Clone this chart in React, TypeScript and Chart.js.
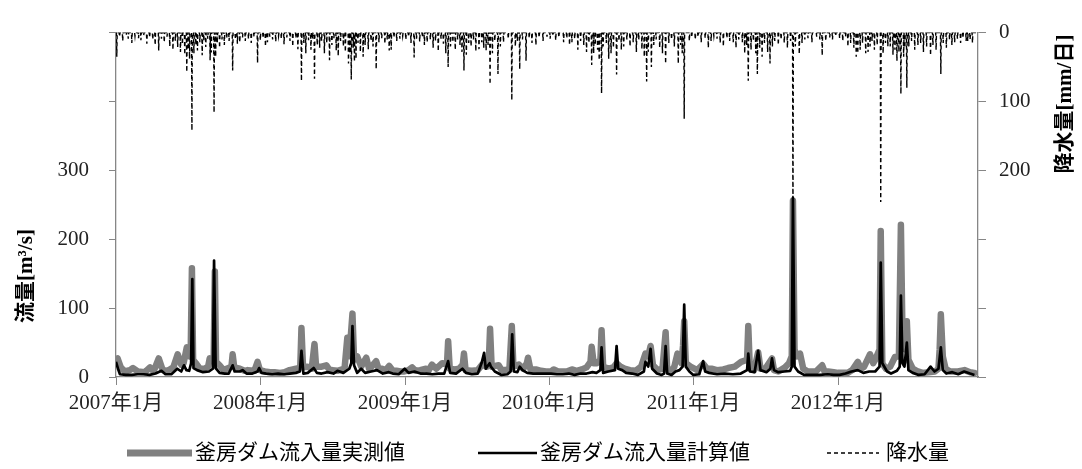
import React, { useEffect, useRef } from "react";
import { Chart, registerables } from "chart.js";

Chart.register(...registerables);

// x values are day offsets from 2007-01-01
const yearStarts = [0, 365, 731, 1096, 1461, 1826];
const yearLabels = ["2007年1月", "2008年1月", "2009年1月", "2010年1月", "2011年1月", "2012年1月"];
const seriesNames = ["釜房ダム流入量実測値", "釜房ダム流入量計算値", "降水量"];

// observed inflow [day, m3/s]
const obsPoints: number[][] = [
  [0,25],[4,27],[12,14],[22,8],[35,10],[43,13],[55,8],[73,7],[86,14],[95,8],[108,27],[118,10],[131,9],[145,14],[156,33],[165,18],[171,20],[179,43],[186,30],[189,40],[192,158],[195,25],[202,20],[212,12],[224,12],[233,15],[237,27],[247,25],[250,153],[253,22],[262,17],[272,10],[280,12],[292,15],[295,33],[299,14],[313,12],[325,9],[333,10],[350,9],[358,22],[364,10],[376,8],[390,7],[401,7],[415,6],[426,7],[439,10],[455,12],[466,14],[469,71],[473,14],[484,15],[495,12],[502,48],[506,15],[520,15],[532,17],[540,10],[547,10],[560,9],[578,12],[585,57],[590,30],[598,92],[602,25],[610,30],[620,15],[633,28],[640,12],[646,15],[658,23],[664,12],[673,12],[682,10],[691,16],[700,9],[709,9],[720,8],[729,8],[740,10],[749,14],[757,9],[769,10],[784,12],[790,9],[799,18],[810,12],[825,20],[837,18],[840,52],[844,12],[857,11],[868,12],[877,18],[880,34],[884,10],[900,9],[915,10],[926,18],[938,15],[943,25],[946,70],[950,15],[968,17],[975,10],[986,10],[995,12],[1001,74],[1005,15],[1019,18],[1030,12],[1039,20],[1042,28],[1048,11],[1062,11],[1075,9],[1087,8],[1100,8],[1107,11],[1118,8],[1127,8],[1140,8],[1153,11],[1165,9],[1178,11],[1190,14],[1200,22],[1203,44],[1208,20],[1216,20],[1225,25],[1228,68],[1232,15],[1246,12],[1258,14],[1266,20],[1276,15],[1286,12],[1300,10],[1314,9],[1328,15],[1339,34],[1346,30],[1352,45],[1358,17],[1370,10],[1382,12],[1390,65],[1394,10],[1405,9],[1412,15],[1420,34],[1430,20],[1434,45],[1437,81],[1441,20],[1453,15],[1470,10],[1485,19],[1495,12],[1506,12],[1520,10],[1536,11],[1548,13],[1565,15],[1581,22],[1596,25],[1599,74],[1603,12],[1614,10],[1624,36],[1630,12],[1642,12],[1659,27],[1664,10],[1675,8],[1692,14],[1702,20],[1709,30],[1712,256],[1716,40],[1722,30],[1730,34],[1738,12],[1750,8],[1770,8],[1786,17],[1792,8],[1801,8],[1815,7],[1826,6],[1840,6],[1851,6],[1862,10],[1876,22],[1884,12],[1892,15],[1907,33],[1915,20],[1920,25],[1931,40],[1934,212],[1938,20],[1947,12],[1958,15],[1970,29],[1980,30],[1985,221],[1989,60],[1996,40],[2000,81],[2004,25],[2015,12],[2028,8],[2040,6],[2055,7],[2071,8],[2080,12],[2083,40],[2086,91],[2091,30],[2098,12],[2110,8],[2129,8],[2146,10],[2160,7],[2171,6]
];

// calculated inflow [day, m3/s]
const calcPoints: number[][] = [
  [0,22],[5,12],[10,4],[25,3],[40,3],[55,4],[70,4],[85,3],[100,5],[115,9],[125,4],[140,4],[155,12],[165,8],[172,17],[178,10],[185,9],[190,20],[193,142],[196,13],[205,10],[220,7],[235,8],[245,12],[248,169],[252,13],[262,6],[275,5],[285,5],[295,17],[300,8],[313,8],[320,10],[330,5],[345,5],[358,8],[362,13],[368,6],[380,5],[395,4],[410,5],[425,4],[440,5],[455,6],[465,8],[469,38],[474,5],[485,6],[500,13],[508,6],[520,5],[535,7],[550,5],[560,9],[575,6],[590,12],[595,20],[598,74],[602,17],[610,6],[620,12],[630,6],[645,8],[660,10],[675,5],[690,7],[700,5],[715,4],[730,12],[740,6],[755,8],[770,5],[785,5],[800,4],[815,5],[830,5],[840,23],[845,6],[860,5],[876,12],[885,6],[900,4],[915,5],[925,21],[931,35],[935,12],[945,20],[948,15],[958,8],[975,3],[990,4],[998,8],[1002,62],[1006,8],[1015,7],[1021,15],[1028,10],[1040,6],[1055,5],[1070,5],[1085,5],[1100,5],[1115,4],[1130,4],[1145,5],[1160,3],[1175,5],[1190,5],[1205,7],[1215,6],[1225,10],[1228,43],[1232,6],[1245,8],[1262,10],[1266,45],[1270,12],[1280,10],[1290,6],[1305,5],[1320,3],[1335,8],[1339,22],[1346,15],[1352,41],[1356,12],[1368,5],[1380,3],[1386,5],[1390,45],[1394,5],[1405,3],[1415,8],[1425,10],[1433,15],[1437,105],[1441,15],[1450,8],[1460,3],[1475,4],[1485,23],[1490,8],[1500,6],[1520,4],[1540,5],[1560,4],[1580,5],[1596,10],[1599,34],[1603,8],[1615,7],[1624,38],[1630,10],[1645,7],[1655,12],[1659,27],[1664,10],[1675,7],[1690,8],[1705,9],[1709,15],[1712,260],[1716,15],[1725,8],[1740,3],[1760,3],[1780,3],[1800,4],[1815,3],[1830,3],[1845,5],[1860,8],[1876,10],[1890,6],[1905,8],[1920,8],[1931,15],[1934,166],[1938,20],[1950,8],[1960,5],[1975,9],[1982,15],[1985,118],[1989,20],[1994,15],[2000,50],[2004,10],[2015,6],[2030,3],[2045,4],[2060,15],[2070,8],[2080,12],[2086,43],[2091,10],[2100,5],[2115,7],[2130,4],[2145,8],[2160,5],[2171,3]
];

// heavy daily rainfall [day, mm/day]
const rainMajor: number[][] = [
  [2,35],[108,26],[144,25],[156,21],[179,57],[192,142],[212,14],[227,21],[248,116],[295,55],[313,14],[358,44],[383,14],[469,70],[502,67],[509,18],[540,40],[557,26],[595,68],[603,42],[638,24],[658,53],[691,26],[696,25],[754,36],[787,14],[840,50],[880,55],[918,24],[936,26],[946,75],[966,60],[1001,98],[1021,53],[1037,41],[1062,18],[1153,14],[1183,18],[1203,47],[1228,88],[1246,38],[1266,61],[1284,20],[1342,71],[1354,50],[1390,45],[1422,45],[1437,125],[1498,22],[1561,14],[1584,14],[1599,70],[1622,60],[1654,45],[1675,18],[1712,266],[1728,31],[1786,33],[1851,20],[1876,30],[1907,20],[1934,246],[1952,20],[1975,41],[1985,89],[2000,80],[2028,18],[2060,33],[2086,60],[2121,14],[2154,12]
];

// small daily rainfall [day, mm/day]
const rainMinor: number[][] = [
  [9,6],[17,12],[26,4],[31,9],[40,15],[48,5],[57,8],[63,11],[70,4],[78,16],[85,7],[93,10],[99,18],[115,9],[122,14],[129,6],[136,20],[150,12],[163,28],[168,17],[174,32],[183,24],[186,38],[197,30],[202,18],[206,26],[218,33],[222,12],[232,9],[238,40],[241,29],[252,35],[256,15],[262,22],[268,10],[274,18],[280,8],[286,12],[302,10],[307,16],[320,7],[327,12],[335,9],[342,15],[349,6],[365,11],
  [372,8],[378,20],[389,6],[396,10],[404,13],[411,5],[418,9],[425,17],[432,7],[440,12],[447,20],[455,8],[460,24],[475,15],[480,30],[487,11],[493,25],[497,9],[515,22],[520,12],[527,30],[533,15],[546,18],[551,8],[562,34],[568,12],[575,20],[580,28],[588,45],[591,30],[600,22],[607,38],[612,15],[618,28],[625,35],[630,18],[645,12],[650,20],[665,14],[672,8],[680,16],[686,10],[703,7],[710,12],[718,9],[725,5],
  [733,10],[740,6],[746,15],[760,9],[768,13],[775,7],[780,18],[795,10],[802,22],[808,12],[815,27],[822,9],[828,16],[834,30],[846,20],[852,14],[858,25],[864,10],[870,18],[875,28],[886,32],[892,15],[898,20],[904,10],[910,27],[925,14],[930,22],[941,18],[952,30],[958,12],[972,20],[980,14],[992,9],[1010,20],[1015,12],[1028,10],[1045,8],[1052,15],[1070,7],[1080,12],[1090,6],
  [1098,9],[1105,5],[1112,11],[1120,7],[1132,14],[1140,8],[1147,18],[1160,9],[1168,25],[1175,12],[1190,28],[1196,15],[1208,30],[1212,18],[1218,25],[1222,40],[1232,20],[1240,15],[1252,30],[1258,22],[1272,12],[1278,25],[1292,10],[1300,20],[1308,14],[1316,28],[1322,10],[1330,24],[1336,35],[1346,28],[1360,18],[1366,10],[1375,22],[1382,30],[1398,15],[1405,10],[1412,20],[1428,18],[1432,30],[1450,12],[1456,7],
  [1465,10],[1472,6],[1480,14],[1490,8],[1505,12],[1512,5],[1520,9],[1528,15],[1536,20],[1545,8],[1552,12],[1568,22],[1575,10],[1590,30],[1595,18],[1606,25],[1612,12],[1618,30],[1628,22],[1634,35],[1640,15],[1648,28],[1660,20],[1666,12],[1682,10],[1690,15],[1698,22],[1706,12],[1718,20],[1735,15],[1742,10],[1750,8],[1760,14],[1772,6],[1780,10],[1795,12],[1805,7],[1812,10],[1820,5],
  [1830,8],[1838,12],[1845,6],[1858,15],[1866,22],[1872,35],[1882,25],[1888,15],[1896,30],[1902,28],[1912,12],[1918,25],[1925,18],[1940,30],[1946,15],[1958,20],[1965,32],[1970,25],[1980,28],[1992,35],[1995,22],[2005,20],[2012,12],[2020,25],[2035,15],[2042,28],[2050,20],[2066,18],[2074,25],[2092,15],[2100,22],[2108,10],[2114,18],[2128,9],[2136,15],[2142,8],[2150,12],[2160,10],[2166,15]
];

const LAST_DAY = 2180;
const FONT = "'Liberation Serif', 'Noto Sans CJK JP', serif";

function buildRain() {
  const m = new Map<number, number>();
  [...rainMinor, ...rainMajor].forEach(([d, v]) => {
    m.set(d, Math.max(m.get(d) ?? 0, v));
  });
  const out: { x: number; y: number }[] = [];
  for (let d = 0; d <= LAST_DAY; d++) out.push({ x: d, y: m.get(d) ?? 0 });
  return out;
}

const extrasPlugin = {
  id: "extras",
  afterDraw(chart: any) {
    const ctx = chart.ctx as CanvasRenderingContext2D;
    ctx.save();
    ctx.fillStyle = "#000";
    ctx.textBaseline = "middle";
    // axis titles (both read bottom-to-top)
    ctx.font = `bold 21px ${FONT}`;
    ctx.textAlign = "center";
    ctx.save();
    ctx.translate(27, 276);
    ctx.rotate(-Math.PI / 2);
    ctx.fillText("流量[m³/s]", 0, 0);
    ctx.restore();
    ctx.save();
    ctx.translate(1066, 104);
    ctx.rotate(-Math.PI / 2);
    ctx.fillText("降水量[mm/日]", 0, 0);
    ctx.restore();
    // legend
    const ly = 453;
    ctx.font = `21px ${FONT}`;
    ctx.textAlign = "left";
    ctx.lineCap = "butt";
    ctx.strokeStyle = "#808080";
    ctx.lineWidth = 7;
    ctx.beginPath(); ctx.moveTo(127, ly); ctx.lineTo(192, ly); ctx.stroke();
    ctx.fillText(seriesNames[0], 195, ly);
    ctx.strokeStyle = "#000";
    ctx.lineWidth = 2.5;
    ctx.beginPath(); ctx.moveTo(478, ly); ctx.lineTo(537, ly); ctx.stroke();
    ctx.fillText(seriesNames[1], 540, ly);
    ctx.lineWidth = 1.4;
    ctx.setLineDash([4, 3]);
    ctx.beginPath(); ctx.moveTo(827, ly); ctx.lineTo(879, ly); ctx.stroke();
    ctx.setLineDash([]);
    ctx.fillText(seriesNames[2], 886, ly);
    ctx.restore();
  },
};

export default function App() {
  const ref = useRef<HTMLCanvasElement>(null);
  useEffect(() => {
    if (!ref.current) return;
    const axisColor = "#868686";
    const tickFont = { family: FONT, size: 21 };
    const chart = new Chart(ref.current, {
      type: "line",
      data: {
        datasets: [
          {
            label: seriesNames[0],
            data: obsPoints.map(([x, y]) => ({ x, y })),
            borderColor: "#808080",
            borderWidth: 6.5,
            pointRadius: 0,
            tension: 0,
            borderJoinStyle: "round",
            borderCapStyle: "round",
            yAxisID: "y",
            order: 3,
          },
          {
            label: seriesNames[1],
            data: calcPoints.map(([x, y]) => ({ x, y })),
            borderColor: "#000",
            borderWidth: 2.7,
            pointRadius: 0,
            tension: 0,
            borderJoinStyle: "round",
            yAxisID: "y",
            order: 2,
          },
          {
            label: seriesNames[2],
            data: buildRain(),
            borderColor: "#000",
            borderWidth: 1.4,
            borderDash: [4, 3],
            pointRadius: 0,
            tension: 0,
            yAxisID: "y1",
            order: 1,
          },
        ],
      } as any,
      options: {
        responsive: false,
        devicePixelRatio: 1,
        animation: false,
        layout: { padding: { top: 25, left: 0, right: 0, bottom: 0 } },
        plugins: { legend: { display: false }, tooltip: { enabled: false } },
        scales: {
          x: {
            type: "linear",
            min: 0,
            max: LAST_DAY,
            afterBuildTicks: (s: any) => {
              s.ticks = yearStarts.map((v) => ({ value: v }));
            },
            afterFit: (s: any) => {
              s.height = 92;
            },
            ticks: {
              autoSkip: false,
              maxRotation: 0,
              padding: 6,
              color: "#222",
              font: tickFont,
              callback: (_v: any, i: number) => yearLabels[i],
            },
            grid: { drawOnChartArea: false, drawTicks: true, tickLength: 8, color: axisColor },
            border: { color: axisColor, width: 1.3 },
          },
          y: {
            position: "left",
            min: 0,
            max: 500,
            afterFit: (s: any) => {
              s.width = 116;
            },
            ticks: {
              stepSize: 100,
              padding: 20,
              color: "#222",
              font: tickFont,
              callback: (v: any) => (v <= 300 ? String(v) : ""),
            },
            grid: { drawOnChartArea: false, drawTicks: true, tickLength: 7, color: axisColor },
            border: { color: axisColor, width: 1.3 },
          },
          y1: {
            position: "right",
            min: 0,
            max: 500,
            reverse: true,
            afterFit: (s: any) => {
              s.width = 104;
            },
            ticks: {
              stepSize: 100,
              padding: 13,
              color: "#222",
              font: tickFont,
              callback: (v: any) => (v <= 200 ? String(v) : ""),
            },
            grid: { drawOnChartArea: false, drawTicks: true, tickLength: 8, color: axisColor },
            border: { color: axisColor, width: 1.3 },
          },
        },
      } as any,
      plugins: [extrasPlugin],
    });
    return () => chart.destroy();
  }, []);
  return (
    <div style={{ position: "absolute", left: 0, top: 0, width: 1082, height: 469, background: "#fff" }}>
      <canvas ref={ref} width={1082} height={469} style={{ display: "block" }} />
    </div>
  );
}
